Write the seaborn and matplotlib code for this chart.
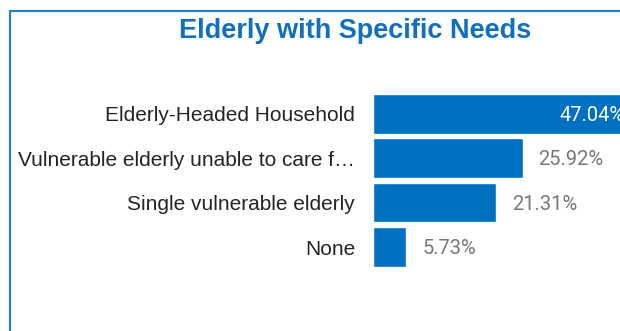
import matplotlib
matplotlib.use("Agg")
import matplotlib.pyplot as plt
from matplotlib.patches import Rectangle
import seaborn as sns
import pandas as pd

# Data
categories = [
    "Elderly-Headed Household",
    "Vulnerable elderly unable to care f\u2026",
    "Single vulnerable elderly",
    "None",
]
shares = [47.04, 25.92, 21.31, 5.73]
value_labels = ["47.04%", "25.92%", "21.31%", "5.73%"]

BAR_BLUE = "#0070C0"
TITLE_BLUE = "#1170BD"
FRAME_BLUE = "#2E7EC6"
LABEL_GREY = "#777777"

sns.set_theme(style="white")
plt.rcParams["font.family"] = ["Liberation Sans", "DejaVu Sans"]

df = pd.DataFrame({"category": categories, "share": shares})

W, H = 620, 331
fig = plt.figure(figsize=(W / 100, H / 100), dpi=100)

# Plot area placed in pixel terms (the right end runs past the canvas edge)
ax_left, ax_top, ax_bottom = 373.3, 91.5, 269.3
ax_width = 271.0
ax = fig.add_axes([ax_left / W, 1 - ax_bottom / H, ax_width / W, (ax_bottom - ax_top) / H])

sns.barplot(data=df, x="share", y="category", orient="h", color=BAR_BLUE,
            saturation=1, width=0.89, ax=ax)

ax.set_xlim(0, max(shares))
ax.set_ylim(len(categories) - 0.5, -0.5)
for s in ax.spines.values():
    s.set_visible(False)
ax.set_xticks([])
ax.set_xlabel("")
ax.set_ylabel("")
ax.tick_params(axis="y", length=0, pad=13, labelsize=15, labelcolor="#252423")

# Value labels: inside the longest bar, outside the rest
value_font = dict(fontsize=14.5, family=["Roboto", "DejaVu Sans"])
for i, (v, lab) in enumerate(zip(shares, value_labels)):
    if i == 0:
        ax.annotate(lab, (v, i), xytext=(-14.5, -1), textcoords="offset points",
                    ha="right", va="center", color="white", **value_font)
    else:
        ax.annotate(lab, (v, i), xytext=(11.5, -1), textcoords="offset points",
                    ha="left", va="center", color=LABEL_GREY, **value_font)

# Title
fig.text(355 / W, 1 - 31 / H, "Elderly with Specific Needs", ha="center", va="center",
         fontsize=19.5, fontweight="bold", color=TITLE_BLUE)

# Card border
fig.add_artist(Rectangle((9.5 / W, -0.1), 1.2, 1.1 - 10.5 / H, fill=False,
                         edgecolor=FRAME_BLUE, lw=1.6, transform=fig.transFigure))

fig.savefig("out.png", dpi=100)
